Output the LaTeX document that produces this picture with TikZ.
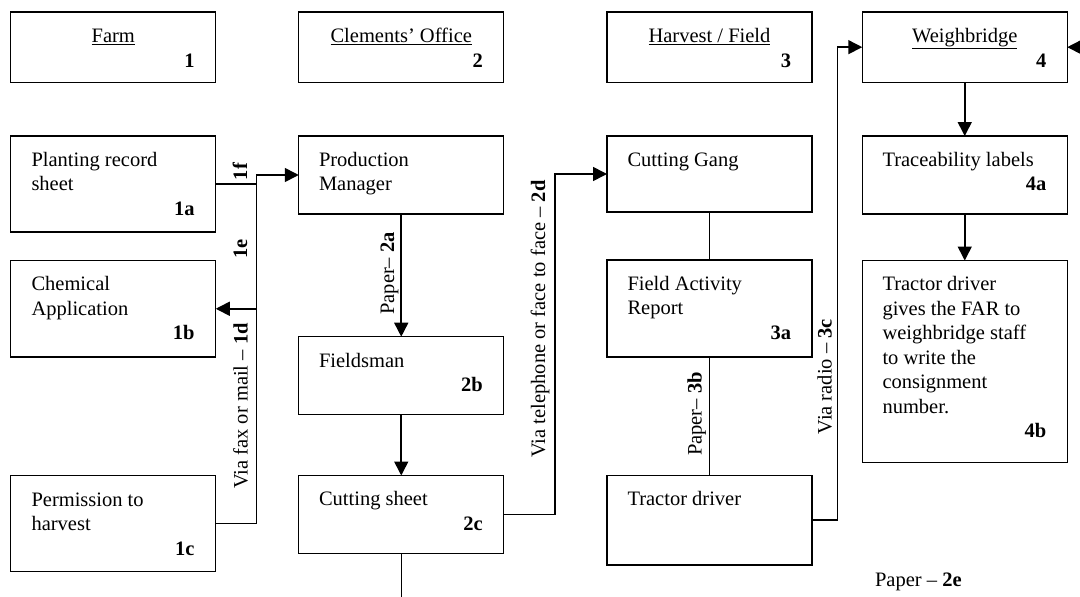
\documentclass[tikz,border=0pt]{standalone}
\usepackage{fontspec}
\setmainfont{Liberation Serif}
\usetikzlibrary{arrows.meta}
\newcommand\mlines[1]{\parbox[t]{175pt}{#1}}
\begin{document}
\begin{tikzpicture}[x=1pt,y=-1pt,
  box/.style={draw, line width=1.3pt, minimum width=205pt, inner sep=0pt, outer sep=0pt},
  txt/.style={inner sep=0pt, outer sep=0pt, anchor=base west, font=\fontsize{20.5}{24.5}\selectfont},
  num/.style={inner sep=0pt, outer sep=0pt, anchor=base east, font=\fontsize{20.5}{24.5}\selectfont\bfseries},
  head/.style={inner sep=0pt, outer sep=0pt, anchor=base, font=\fontsize{20.5}{24.5}\selectfont},
  lab/.style={inner sep=0pt, outer sep=0pt, rotate=90, anchor=base, font=\fontsize{20.5}{24.5}\selectfont},
  arr/.style={line width=1.6pt, -{Triangle[length=14pt,width=14pt]}},
  ln/.style={line width=1.4pt},
  thin/.style={line width=1.1pt},
]
\useasboundingbox (0,0) rectangle (1080,597);

% header boxes
\node[box, minimum height=70.3pt] (h1) at (113.25,47.15) {};
\node[box, minimum height=70.3pt] (h2) at (401.25,47.15) {};
\node[box, minimum height=70.3pt] (h3) at (709.5,47.15) {};
\node[box, minimum height=70.3pt] (h4) at (964.75,47.15) {};
\node[head] (th1) at (113.25,42.5) {\underline{Farm}};
\node[head] (th2) at (401.25,42.5) {\underline{Clements' Office}};
\node[head] (th3) at (709.5,42.5) {\underline{Harvest / Field}};
\node[head] (th4) at (964.75,42.5) {\underline{Weighbridge}};
\node[num] (nh1) at (194.5,67) {1};
\node[num] (nh2) at (482.75,67) {2};
\node[num] (nh3) at (791,67) {3};
\node[num] (nh4) at (1046.25,67) {4};

% farm column
\node[box, minimum height=96pt] (b1a) at (113.25,184) {};
\node[box, minimum height=96.5pt] (b1b) at (113.25,308.75) {};
\node[box, minimum height=96.2pt] (b1c) at (113.25,523.6) {};
\node[txt] (t1a) at (31.5,166.3) {\mlines{Planting record\\sheet}};
\node[num] (n1a) at (194.5,215.3) {1a};
\node[txt] (t1b) at (31.5,290.8) {\mlines{Chemical\\Application}};
\node[num] (n1b) at (194.5,339.8) {1b};
\node[txt] (t1c) at (31.5,506) {\mlines{Permission to\\harvest}};
\node[num] (n1c) at (194.5,555) {1c};

% office column
\node[box, minimum height=78pt] (b2a) at (401.25,175) {};
\node[box, minimum height=78pt] (b2b) at (401.25,375.7) {};
\node[box, minimum height=77.8pt] (b2c) at (401.25,514.4) {};
\node[txt] (t2a) at (319,166.3) {\mlines{Production\\Manager}};
\node[txt] (t2b) at (319,367) {Fieldsman};
\node[num] (n2b) at (482.75,391.5) {2b};
\node[txt] (t2c) at (319,505.8) {Cutting sheet};
\node[num] (n2c) at (482.75,530.3) {2c};

% field column
\node[box, minimum height=76pt] (b3g) at (709.5,174) {};
\node[box, minimum height=97pt] (b3a) at (709.5,308.5) {};
\node[box, minimum height=89.5pt] (b3t) at (709.5,520.25) {};
\node[txt] (t3g) at (627.5,166.3) {Cutting Gang};
\node[txt] (t3a) at (627.5,290.3) {\mlines{Field Activity\\Report}};
\node[num] (n3a) at (791,339.3) {3a};
\node[txt] (t3t) at (627.5,505.8) {Tractor driver};

% weighbridge column
\node[box, minimum height=78pt] (b4a) at (964.75,175) {};
\node[box, minimum height=201.8pt] (b4b) at (964.75,361.4) {};
\node[txt] (t4a) at (882.5,166.3) {Traceability labels};
\node[num] (n4a) at (1046.25,190.8) {4a};
\node[txt] (t4b) at (882.5,290.8) {\mlines{Tractor driver\\gives the FAR to\\weighbridge staff\\to write the\\consignment\\number.}};
\node[num] (n4b) at (1046.25,437.8) {4b};

% connectors
\coordinate (j1) at (256.6,175);
\draw[ln] (b1a.east) -- (b1a.east -| j1);
\draw[arr] (b1c.east) -| (j1) -- (b2a.west);
\draw[arr] (b1b.east -| j1) -- (b1b.east);
\draw[arr] (b2a.south) -- (b2b.north);
\draw[arr] (b2b.south) -- (b2c.north);
\coordinate (bot) at (401.25,605);
\draw[thin] (b2c.south) -- (bot);
\coordinate (j2) at (555,174);
\draw[arr] (b2c.east) -| (j2) -- (b3g.west);
\draw[thin] (b3g.south) -- (b3a.north);
\draw[thin] (b3a.south) -- (b3t.north);
\coordinate (j3) at (837.3,47.15);
\draw[arr] (b3t.east) -| (j3) -- (h4.west);
\coordinate (rt) at (1110,47.15);
\draw[arr] (rt) -- (h4.east);
\draw[arr] (h4.south) -- (b4a.north);
\draw[arr] (b4a.south) -- (b4b.north);

% connector labels
\node[lab, font=\fontsize{20.5}{24.5}\selectfont\bfseries] (l1f) at (247,171.5) {1f};
\node[lab, font=\fontsize{20.5}{24.5}\selectfont\bfseries] (l1e) at (247,249) {1e};
\node[lab] (l1d) at (247.5,406) {Via fax or mail – \textbf{1d}};
\node[lab] (l2a) at (394,273.4) {Paper– \textbf{2a}};
\node[lab] (l2d) at (545,319) {Via telephone or face to face – \textbf{2d}};
\node[lab] (l3b) at (701.5,414) {Paper– \textbf{3b}};
\node[lab] (l3c) at (831.5,376.7) {Via radio – \textbf{3c}};
\node[txt] (l2e) at (875,586) {Paper – \textbf{2e}};
\end{tikzpicture}
\end{document}
